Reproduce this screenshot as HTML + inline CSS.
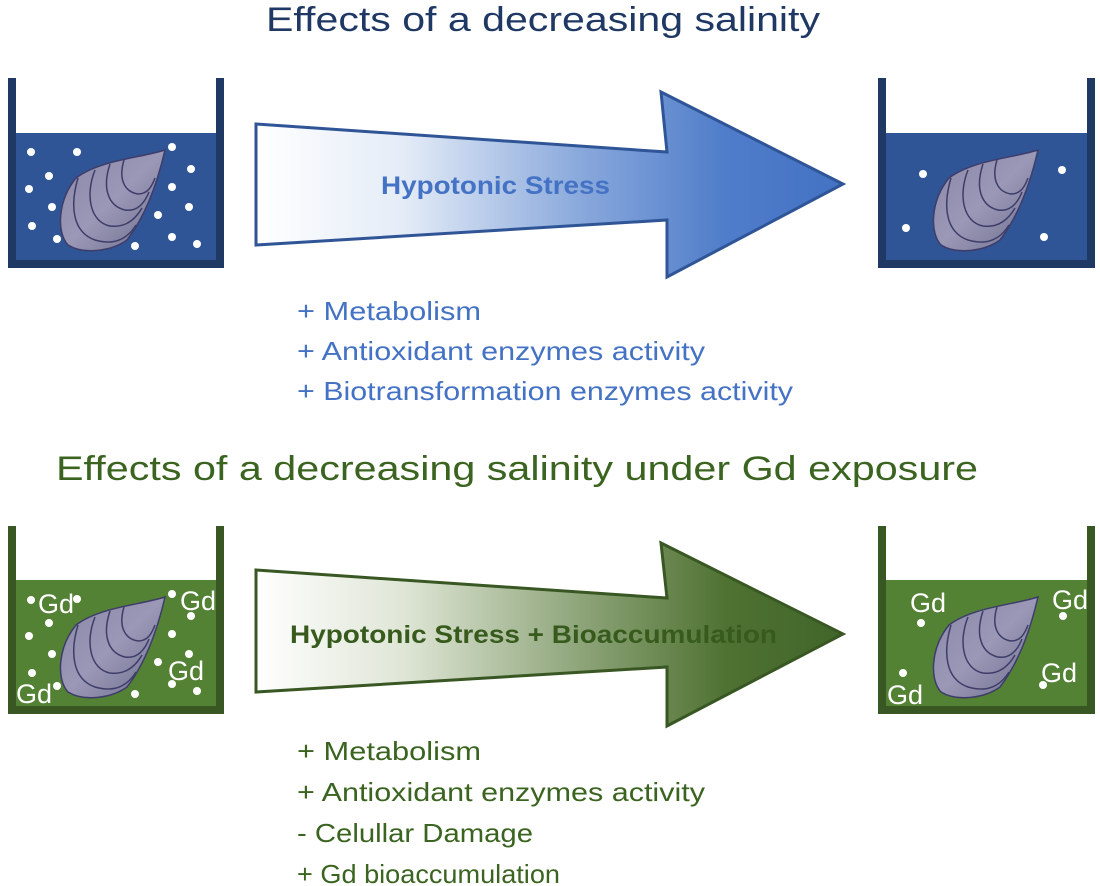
<!DOCTYPE html>
<html><head><meta charset="utf-8"><style>
html,body{margin:0;padding:0;background:#fff;}
svg{display:block;}
text{font-family:"Liberation Sans","DejaVu Sans",sans-serif;}
</style></head><body>
<svg width="1100" height="886" viewBox="0 0 1100 886" xmlns="http://www.w3.org/2000/svg">
<defs>
<linearGradient id="gb" x1="0" x2="1" y1="0" y2="0">
<stop offset="0" stop-color="#ffffff"/><stop offset="0.25" stop-color="#e4ecf7"/><stop offset="0.55" stop-color="#8aa9dc"/><stop offset="0.8" stop-color="#4f7dca"/><stop offset="1" stop-color="#4472c4"/>
</linearGradient>
<linearGradient id="gg" x1="0" x2="1" y1="0" y2="0">
<stop offset="0" stop-color="#ffffff"/><stop offset="0.25" stop-color="#dfe6d6"/><stop offset="0.55" stop-color="#8ea57a"/><stop offset="0.8" stop-color="#4f7232"/><stop offset="1" stop-color="#41652a"/>
</linearGradient>
<linearGradient id="ms" x1="0" y1="0" x2="1" y2="1">
<stop offset="0" stop-color="#8a88a6"/><stop offset="0.5" stop-color="#9a98b6"/><stop offset="1" stop-color="#6e6c8c"/>
</linearGradient>
<g id="mussel">
<path d="M165,150 C140,158 100,160 76,178 C58,200 56,232 68,245 C84,255 112,251 127,240 C147,214 158,180 165,150 Z" fill="url(#ms)" stroke="#3e3d6a" stroke-width="1.5"/>
<path d="M78,178 C70,205 72,232 95,240 C115,246 128,238 136,225" fill="none" stroke="#3e3d6a" stroke-width="1.5"/>
<path d="M95,170 C85,195 90,222 110,226 C125,228 135,220 142,208" fill="none" stroke="#3e3d6a" stroke-width="1.5"/>
<path d="M110,164 C102,188 108,206 125,210 C138,212 145,202 149,192" fill="none" stroke="#3e3d6a" stroke-width="1.5"/>
<path d="M124,160 C118,180 125,192 138,194 C148,194 152,186 155,178" fill="none" stroke="#3e3d6a" stroke-width="1.5"/>
</g>
</defs>

<text x="543" y="31" text-anchor="middle" font-size="34" fill="#1f3864" textLength="554" lengthAdjust="spacingAndGlyphs">Effects of a decreasing salinity</text>

<rect x="15" y="133" width="203" height="128" fill="#2f5597"/>
<path d="M8,78 V268 H224 V78 H216 V260 H16 V78 Z" fill="#1f3864"/>
<use href="#mussel"/>
<g fill="#fff">
<circle cx="31" cy="152" r="4"/><circle cx="77" cy="152" r="4"/><circle cx="49" cy="176" r="4"/><circle cx="29" cy="189" r="4"/><circle cx="52" cy="207" r="4"/><circle cx="32" cy="226" r="4"/><circle cx="57" cy="239" r="4"/><circle cx="135" cy="246" r="4"/><circle cx="172" cy="147" r="4"/><circle cx="191" cy="169" r="4"/><circle cx="172" cy="187" r="4"/><circle cx="189" cy="207" r="4"/><circle cx="158" cy="215" r="4"/><circle cx="172" cy="237" r="4"/><circle cx="197" cy="244" r="4"/>
</g>

<path d="M256,124 L667,152 L661,92 L843,184 L667,277 L667,220 L256,245 Z" fill="url(#gb)" stroke="#2f5597" stroke-width="3"/>
<text x="381" y="194" font-size="25" font-weight="bold" fill="#4472c4" textLength="229" lengthAdjust="spacingAndGlyphs">Hypotonic Stress</text>

<rect x="886" y="133" width="202" height="128" fill="#2f5597"/>
<path d="M878,78 V268 H1095 V78 H1087 V260 H886 V78 Z" fill="#1f3864"/>
<use href="#mussel" transform="translate(873,0)"/>
<g fill="#fff"><circle cx="923" cy="174" r="4"/><circle cx="1062" cy="170" r="4"/><circle cx="906" cy="228" r="4"/><circle cx="1044" cy="237" r="4"/></g>

<g font-size="26" fill="#4472c4">
<text x="297" y="320" textLength="184" lengthAdjust="spacingAndGlyphs">+ Metabolism</text>
<text x="297" y="360" textLength="408" lengthAdjust="spacingAndGlyphs">+ Antioxidant enzymes activity</text>
<text x="297" y="400" textLength="496" lengthAdjust="spacingAndGlyphs">+ Biotransformation enzymes activity</text>
</g>

<text x="517" y="480" text-anchor="middle" font-size="34" fill="#3b6420" textLength="922" lengthAdjust="spacingAndGlyphs">Effects of a decreasing salinity under Gd exposure</text>

<rect x="15" y="580" width="203" height="127" fill="#548235"/>
<path d="M8,526 V714 H224 V526 H216 V706 H16 V526 Z" fill="#385723"/>
<use href="#mussel" transform="translate(0,447)"/>
<g fill="#fff">
<circle cx="31" cy="600" r="4"/><circle cx="77" cy="599" r="4"/><circle cx="49" cy="623" r="4"/><circle cx="29" cy="636" r="4"/><circle cx="52" cy="654" r="4"/><circle cx="32" cy="673" r="4"/><circle cx="57" cy="686" r="4"/><circle cx="135" cy="694" r="4"/><circle cx="172" cy="594" r="4"/><circle cx="191" cy="616" r="4"/><circle cx="172" cy="634" r="4"/><circle cx="189" cy="654" r="4"/><circle cx="158" cy="662" r="4"/><circle cx="172" cy="684" r="4"/><circle cx="197" cy="691" r="4"/>
</g>
<g font-size="27" fill="#fff">
<text x="38" y="613">Gd</text><text x="180" y="610">Gd</text><text x="168" y="680">Gd</text><text x="16" y="703">Gd</text>
</g>

<path d="M256,570 L667,598 L661,543 L843,634 L667,726 L667,667 L256,692 Z" fill="url(#gg)" stroke="#385723" stroke-width="3"/>
<text x="290" y="643" font-size="25" font-weight="bold" fill="#375a1d" textLength="487" lengthAdjust="spacingAndGlyphs">Hypotonic Stress + Bioaccumulation</text>

<rect x="886" y="580" width="202" height="127" fill="#548235"/>
<path d="M878,526 V714 H1095 V526 H1087 V706 H886 V526 Z" fill="#385723"/>
<use href="#mussel" transform="translate(873,447)"/>
<g fill="#fff"><circle cx="921" cy="623" r="4"/><circle cx="1063" cy="616" r="4"/><circle cx="903" cy="673" r="4"/><circle cx="1043" cy="685" r="4"/></g>
<g font-size="27" fill="#fff">
<text x="910" y="612">Gd</text><text x="1052" y="609">Gd</text><text x="887" y="704">Gd</text><text x="1041" y="682">Gd</text>
</g>

<g font-size="26" fill="#3b6420">
<text x="297" y="760" textLength="184" lengthAdjust="spacingAndGlyphs">+ Metabolism</text>
<text x="297" y="801" textLength="408" lengthAdjust="spacingAndGlyphs">+ Antioxidant enzymes activity</text>
<text x="297" y="842" textLength="236" lengthAdjust="spacingAndGlyphs">- Celullar Damage</text>
<text x="297" y="883" textLength="263" lengthAdjust="spacingAndGlyphs">+ Gd bioaccumulation</text>
</g>
</svg>
</body></html>
